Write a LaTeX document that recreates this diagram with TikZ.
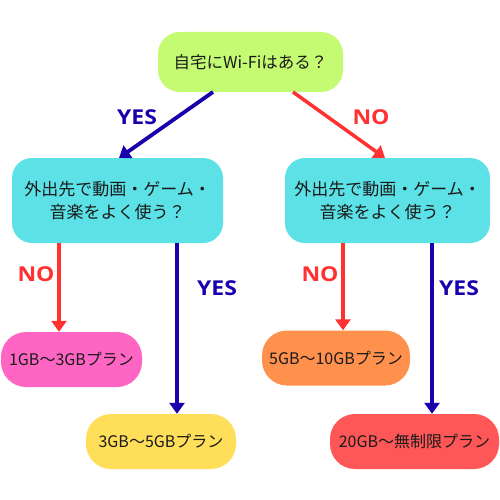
\documentclass[tikz,border=0pt]{standalone}
\usepackage{fontspec}
\setmainfont{Noto Sans CJK JP}
\newfontfamily\labfont{Open Sans}[FakeStretch=1.12]
\usetikzlibrary{arrows.meta}
\definecolor{cgreen}{HTML}{C5FB72}
\definecolor{ccyan}{HTML}{5CE1E6}
\definecolor{cpink}{HTML}{FF66C4}
\definecolor{cyellow}{HTML}{FFDE59}
\definecolor{corange}{HTML}{FF914D}
\definecolor{cred}{HTML}{FF5757}
\definecolor{ablue}{HTML}{1800AD}
\definecolor{ared}{HTML}{FF3131}
\definecolor{tdark}{HTML}{1A1A1A}
\tikzset{
  box/.style={rectangle, inner sep=0pt, text=tdark, align=center,
    font=\fontsize{16}{22}\selectfont},
  qbox/.style={box, fill=ccyan, rounded corners=20pt, minimum width=205pt, minimum height=85pt,
    font=\fontsize{17}{22.5}\selectfont},
  pbox/.style={box, rounded corners=25pt, minimum height=55pt},
  yesarr/.style={draw=ablue, line width=3.8pt, -{Triangle[width=15pt,length=11pt]}, fill=ablue},
  noarr/.style={draw=ared, line width=3.5pt, -{Triangle[width=15pt,length=11pt]}, fill=ared},
  yeslab/.style={text=ablue, font=\labfont\fontsize{20.5}{20.5}\bfseries\selectfont},
  nolab/.style={text=ared, font=\labfont\fontsize{20.5}{20.5}\bfseries\selectfont},
}
\begin{document}
\begin{tikzpicture}[x=1pt,y=-1pt]
\useasboundingbox (0,0) rectangle (500,500);
\fill[white] (0,0) rectangle (500,500);

\node[box, fill=cgreen, rounded corners=22pt, minimum width=185pt, minimum height=60pt,
  font=\fontsize{16.5}{22}\selectfont] (top) at (250.5,62) {自宅にWi-Fiはある？};
\node[qbox, minimum width=211pt] (ql) at (117.5,200.5) {外出先で動画・ゲーム・\\音楽をよく使う？};
\node[qbox] (qr) at (387.5,200.5) {外出先で動画・ゲーム・\\音楽をよく使う？};

\node[pbox, fill=cpink, minimum width=141pt] (p1) at (71.5,359.5) {1GB〜3GBプラン};
\node[pbox, fill=cyellow, minimum width=150pt] (p2) at (161,441.5) {3GB〜5GBプラン};
\node[pbox, fill=corange, minimum width=148pt] (p3) at (336,358) {5GB〜10GBプラン};
\node[pbox, fill=cred, minimum width=169pt] (p4) at (414.5,441.5) {20GB〜無制限プラン};

\coordinate (t1) at (213,92);
\coordinate (t2) at (293,92);
\coordinate (m1) at (119,158);
\coordinate (m2) at (385,158);
\draw[yesarr] (t1) -- (m1);
\draw[noarr] (t2) -- (m2);

\draw[noarr] (ql.south -| 59,0) -- (p1.north -| 59,0);
\draw[yesarr] (ql.south -| 177,0) -- (p2.north -| 177,0);
\draw[noarr] (qr.south -| 343,0) -- (p3.north -| 343,0);
\draw[yesarr] (qr.south -| 432,0) -- (p4.north -| 432,0);

\node[yeslab] (l1) at (137,117) {YES};
\node[nolab] (l2) at (371,117) {NO};
\node[nolab] (l3) at (36,274) {NO};
\node[yeslab] (l4) at (217,288) {YES};
\node[nolab] (l5) at (320,274) {NO};
\node[yeslab] (l6) at (459,288) {YES};
\end{tikzpicture}
\end{document}
